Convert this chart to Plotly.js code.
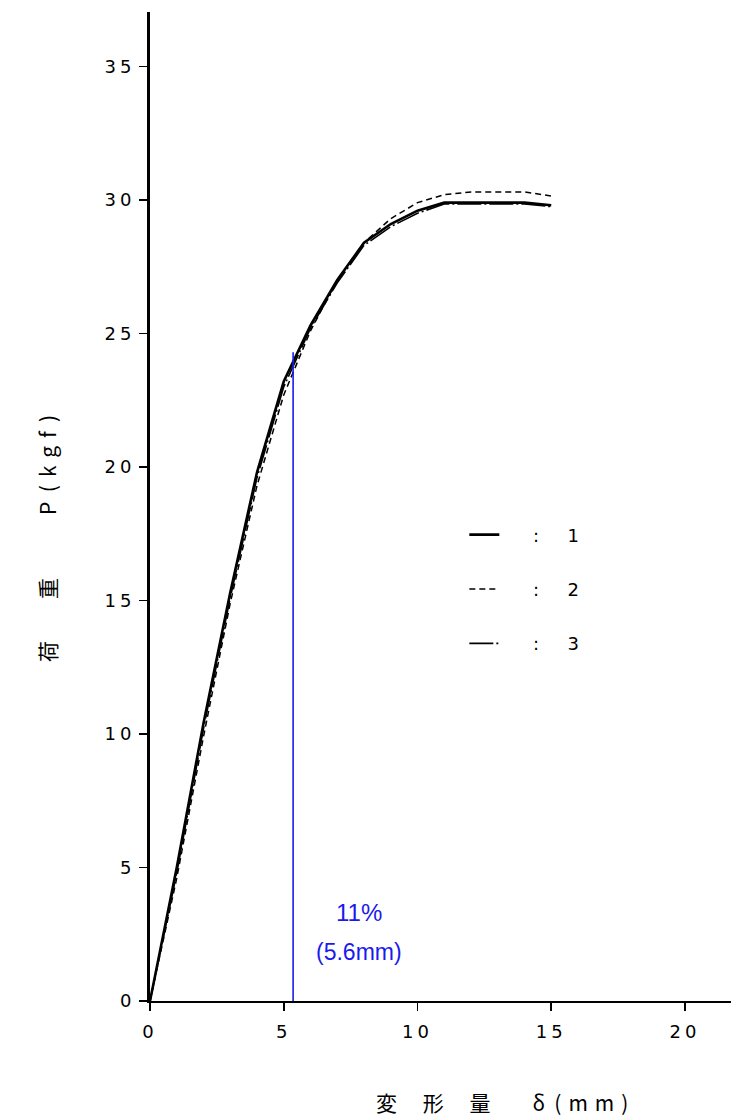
<!DOCTYPE html>
<html>
<head>
<meta charset="utf-8">
<script src="https://cdn.plot.ly/plotly-3.0.1.min.js"></script>
<style>
html,body{margin:0;padding:0;background:#fff;}
#chart{width:731px;height:1119px;}
</style>
</head>
<body>
<div id="chart"></div>
<script>
// ---- data ----
const deformation = [0, 1, 2, 3, 4, 5, 6, 7, 8, 9, 10, 11, 12, 13, 14, 15];
const load1 = [0, 5.0, 10.4, 15.3, 19.8, 23.2, 25.3, 27.0, 28.4, 29.1, 29.6, 29.9, 29.9, 29.9, 29.9, 29.8];
const load2 = [0, 4.6, 9.9, 14.9, 19.3, 22.7, 25.1, 27.0, 28.4, 29.3, 29.9, 30.2, 30.3, 30.3, 30.3, 30.15];
const load3 = [0, 4.8, 10.2, 15.1, 19.6, 23.0, 25.2, 26.9, 28.3, 29.0, 29.5, 29.85, 29.85, 29.85, 29.85, 29.75];
const seriesNames = ["1", "2", "3"];
const xTicks = [0, 5, 10, 15, 20];
const yTicks = [0, 5, 10, 15, 20, 25, 30, 35];
const markX = [5.35, 5.35];
const markY = [0, 24.3];
const markPercent = "11%";
const markLength = "(5.6mm)";
const xTitleMain = "変\u3000 形\u3000 量";
const xTitleSym = "δ";
const xTitleUnit = "(mm)";
const yTitleMain = "荷\u3000\u3000重";
const yTitleSym = "P";
const yTitleUnit = "(kgf)";

const sp = "\u00a0";
function legName(n){ return sp+sp+sp+sp+sp+":"+sp+sp+sp+sp+sp+n; }
function spaced(t, px){ return '<span style="letter-spacing:'+px+'px">'+t+'</span>'; }

const traces = [
  {x: deformation, y: load1, mode: "lines", name: legName(seriesNames[0]), legendgroup: "a",
   line: {color: "#000", width: 2.6}},
  {x: deformation, y: load2, mode: "lines", name: legName(seriesNames[1]), legendgroup: "b",
   line: {color: "#000", width: 1.5, dash: "6px,4px"}},
  {x: deformation, y: load3, mode: "lines", name: legName(seriesNames[2]), legendgroup: "c",
   line: {color: "#000", width: 1.6, dash: "24px,3px,2px,3px"}},
  {x: markX, y: markY, mode: "lines", showlegend: false,
   line: {color: "#1a1aee", width: 1.6}}
];

const tickFont = {family: "DejaVu Sans, sans-serif", size: 18, color: "#000"};

const layout = {
  width: 731, height: 1119,
  margin: {l: 150, r: 0, t: 12, b: 118},
  paper_bgcolor: "#fff", plot_bgcolor: "#fff",
  showlegend: true,
  legend: {x: 0.541, y: 0.49, xanchor: "left", yanchor: "top",
           font: {family: "DejaVu Sans, sans-serif", size: 18, color: "#000"},
           tracegroupgap: 28, bgcolor: "rgba(0,0,0,0)"},
  xaxis: {range: [0, 21.72], tickvals: xTicks, ticktext: xTicks.map(v => spaced(String(v), 4)),
          showgrid: false, zeroline: false, showline: true, linecolor: "#000", linewidth: 2,
          ticks: "outside", ticklen: 8, tickwidth: 1.5, tickcolor: "#000",
          ticklabelstandoff: 5, tickfont: tickFont},
  yaxis: {range: [0, 37.04], tickvals: yTicks, ticktext: yTicks.map(v => spaced(String(v), 4)),
          showgrid: false, zeroline: false, showline: true, linecolor: "#000", linewidth: 3,
          ticks: "outside", ticklen: 8, tickwidth: 1.5, tickcolor: "#000",
          tickfont: tickFont},
  annotations: [
    {text: markPercent, xref: "x", yref: "y", x: 7.8, y: 3.3, showarrow: false,
     font: {family: "Liberation Sans, Arial, sans-serif", size: 24, color: "#1a1aee"}},
    {text: markLength, xref: "x", yref: "y", x: 7.8, y: 1.85, showarrow: false,
     font: {family: "Liberation Sans, Arial, sans-serif", size: 23, color: "#1a1aee"}},
    {text: xTitleMain + "\u3000\u3000" + xTitleSym + "\u00a0\u00a0" + spaced(xTitleUnit, 7),
     xref: "paper", yref: "paper", x: 0.612, y: -0.102, yanchor: "middle",
     showarrow: false, font: {family: "Noto Sans CJK JP, sans-serif", size: 21, color: "#000"}},
    {text: yTitleMain + "\u3000\u3000\u3000" + yTitleSym + "\u00a0\u00a0" + spaced(yTitleUnit, 8),
     xref: "paper", yref: "paper", x: -0.207, y: 0.472, textangle: -90,
     showarrow: false, font: {family: "Noto Sans CJK JP, sans-serif", size: 21, color: "#000"}}
  ]
};

Plotly.newPlot("chart", traces, layout, {displayModeBar: false, staticPlot: true});
</script>
</body>
</html>
